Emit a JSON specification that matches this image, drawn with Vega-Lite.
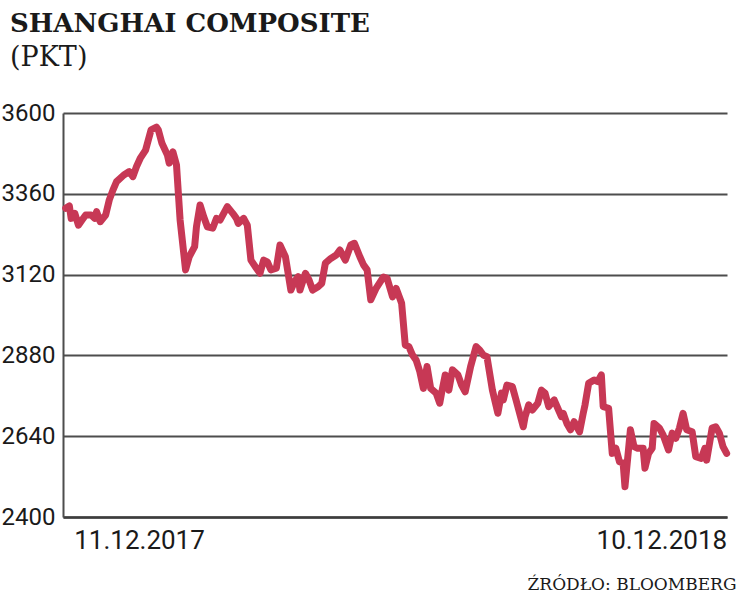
{
  "$schema": "https://vega.github.io/schema/vega-lite/v6.json",
  "width": 664,
  "height": 404,
  "autosize": "none",
  "padding": {"left": 63, "top": 113, "right": 12, "bottom": 76},
  "background": "white",
  "config": {"view": {"stroke": null}},
  "title": {
    "text": "SHANGHAI COMPOSITE",
    "subtitle": "(PKT)",
    "anchor": "start",
    "frame": "group",
    "dx": -53,
    "offset": 30,
    "font": "DejaVu Serif, Liberation Serif",
    "fontSize": 26,
    "fontWeight": "bold",
    "color": "#1a1a1a",
    "subtitleFont": "DejaVu Serif, Liberation Serif",
    "subtitleFontSize": 27,
    "subtitleFontWeight": "normal",
    "subtitleColor": "#1a1a1a",
    "subtitlePadding": 8
  },
  "data": {
    "values": [
      {"day": 0, "pkt": 3317}, {"day": 2, "pkt": 3324}, {"day": 3, "pkt": 3287}, {"day": 5, "pkt": 3302},
      {"day": 7, "pkt": 3267}, {"day": 9, "pkt": 3282}, {"day": 11, "pkt": 3297}, {"day": 14, "pkt": 3297},
      {"day": 16, "pkt": 3287}, {"day": 17, "pkt": 3307}, {"day": 19, "pkt": 3277}, {"day": 22, "pkt": 3297},
      {"day": 24, "pkt": 3342}, {"day": 26, "pkt": 3371}, {"day": 28, "pkt": 3396}, {"day": 32, "pkt": 3416},
      {"day": 35, "pkt": 3426}, {"day": 37, "pkt": 3411}, {"day": 39, "pkt": 3441}, {"day": 41, "pkt": 3465},
      {"day": 44, "pkt": 3490}, {"day": 47, "pkt": 3550}, {"day": 50, "pkt": 3558}, {"day": 51, "pkt": 3550},
      {"day": 53, "pkt": 3510}, {"day": 56, "pkt": 3475}, {"day": 57, "pkt": 3451}, {"day": 59, "pkt": 3485},
      {"day": 61, "pkt": 3446}, {"day": 63, "pkt": 3282}, {"day": 66, "pkt": 3134}, {"day": 68, "pkt": 3173},
      {"day": 71, "pkt": 3203}, {"day": 72, "pkt": 3262}, {"day": 74, "pkt": 3327}, {"day": 76, "pkt": 3292},
      {"day": 78, "pkt": 3262}, {"day": 81, "pkt": 3258}, {"day": 83, "pkt": 3287}, {"day": 85, "pkt": 3282},
      {"day": 89, "pkt": 3322}, {"day": 92, "pkt": 3302}, {"day": 94, "pkt": 3287}, {"day": 95, "pkt": 3272},
      {"day": 98, "pkt": 3287}, {"day": 100, "pkt": 3267}, {"day": 102, "pkt": 3163}, {"day": 105, "pkt": 3139},
      {"day": 107, "pkt": 3124}, {"day": 109, "pkt": 3163}, {"day": 111, "pkt": 3158}, {"day": 113, "pkt": 3134},
      {"day": 116, "pkt": 3139}, {"day": 118, "pkt": 3208}, {"day": 121, "pkt": 3173}, {"day": 124, "pkt": 3074},
      {"day": 126, "pkt": 3099}, {"day": 128, "pkt": 3114}, {"day": 129, "pkt": 3074}, {"day": 132, "pkt": 3124},
      {"day": 134, "pkt": 3104}, {"day": 136, "pkt": 3074}, {"day": 139, "pkt": 3084}, {"day": 141, "pkt": 3094},
      {"day": 143, "pkt": 3154}, {"day": 146, "pkt": 3168}, {"day": 149, "pkt": 3178}, {"day": 151, "pkt": 3193},
      {"day": 154, "pkt": 3163}, {"day": 157, "pkt": 3208}, {"day": 159, "pkt": 3213}, {"day": 162, "pkt": 3173},
      {"day": 164, "pkt": 3149}, {"day": 166, "pkt": 3134}, {"day": 168, "pkt": 3045}, {"day": 171, "pkt": 3080},
      {"day": 175, "pkt": 3113}, {"day": 177, "pkt": 3109}, {"day": 180, "pkt": 3054}, {"day": 182, "pkt": 3079},
      {"day": 184, "pkt": 3050}, {"day": 185, "pkt": 3035}, {"day": 187, "pkt": 2911}, {"day": 189, "pkt": 2906},
      {"day": 191, "pkt": 2881}, {"day": 193, "pkt": 2866}, {"day": 195, "pkt": 2832}, {"day": 197, "pkt": 2782},
      {"day": 199, "pkt": 2847}, {"day": 201, "pkt": 2782}, {"day": 204, "pkt": 2768}, {"day": 206, "pkt": 2738},
      {"day": 207, "pkt": 2768}, {"day": 209, "pkt": 2822}, {"day": 211, "pkt": 2777}, {"day": 213, "pkt": 2837},
      {"day": 216, "pkt": 2822}, {"day": 218, "pkt": 2792}, {"day": 220, "pkt": 2772}, {"day": 223, "pkt": 2847},
      {"day": 226, "pkt": 2906}, {"day": 228, "pkt": 2896}, {"day": 230, "pkt": 2881}, {"day": 232, "pkt": 2876},
      {"day": 235, "pkt": 2777}, {"day": 238, "pkt": 2708}, {"day": 240, "pkt": 2768}, {"day": 241, "pkt": 2748},
      {"day": 243, "pkt": 2792}, {"day": 246, "pkt": 2787}, {"day": 248, "pkt": 2748}, {"day": 250, "pkt": 2708},
      {"day": 252, "pkt": 2668}, {"day": 253, "pkt": 2698}, {"day": 255, "pkt": 2733}, {"day": 257, "pkt": 2718},
      {"day": 260, "pkt": 2738}, {"day": 262, "pkt": 2777}, {"day": 264, "pkt": 2768}, {"day": 266, "pkt": 2728},
      {"day": 269, "pkt": 2748}, {"day": 271, "pkt": 2723}, {"day": 273, "pkt": 2698}, {"day": 274, "pkt": 2708},
      {"day": 276, "pkt": 2678}, {"day": 278, "pkt": 2659}, {"day": 280, "pkt": 2683}, {"day": 283, "pkt": 2653},
      {"day": 285, "pkt": 2708}, {"day": 286, "pkt": 2733}, {"day": 288, "pkt": 2797}, {"day": 291, "pkt": 2807},
      {"day": 293, "pkt": 2802}, {"day": 295, "pkt": 2822}, {"day": 296, "pkt": 2728}, {"day": 299, "pkt": 2723},
      {"day": 301, "pkt": 2589}, {"day": 303, "pkt": 2604}, {"day": 305, "pkt": 2564}, {"day": 307, "pkt": 2560},
      {"day": 308, "pkt": 2490}, {"day": 311, "pkt": 2659}, {"day": 313, "pkt": 2609}, {"day": 315, "pkt": 2604},
      {"day": 318, "pkt": 2604}, {"day": 319, "pkt": 2545}, {"day": 321, "pkt": 2589}, {"day": 323, "pkt": 2604},
      {"day": 324, "pkt": 2678}, {"day": 327, "pkt": 2664}, {"day": 329, "pkt": 2644}, {"day": 332, "pkt": 2599},
      {"day": 334, "pkt": 2649}, {"day": 336, "pkt": 2634}, {"day": 338, "pkt": 2664}, {"day": 340, "pkt": 2708},
      {"day": 342, "pkt": 2659}, {"day": 345, "pkt": 2653}, {"day": 347, "pkt": 2579}, {"day": 350, "pkt": 2574},
      {"day": 352, "pkt": 2604}, {"day": 353, "pkt": 2569}, {"day": 356, "pkt": 2664}, {"day": 358, "pkt": 2668},
      {"day": 360, "pkt": 2649}, {"day": 362, "pkt": 2609}, {"day": 364, "pkt": 2589}
    ]
  },
  "mark": {"type": "line", "color": "#c73855", "strokeWidth": 7, "strokeJoin": "round", "strokeCap": "round"},
  "encoding": {
    "x": {
      "field": "day",
      "type": "quantitative",
      "scale": {"domain": [-1.5, 364.2], "nice": false, "zero": false},
      "axis": {
        "values": [0, 364],
        "labelExpr": "datum.value == 0 ? '11.12.2017' : '10.12.2018'",
        "labelAlign": {"condition": {"test": "datum.value == 0", "value": "left"}, "value": "right"},
        "labelOffset": {"condition": {"test": "datum.value == 0", "value": 8}, "value": 0},
        "labelFlush": false,
        "labelOverlap": false,
        "labelFont": "Roboto",
        "labelFontSize": 26,
        "labelColor": "#1a1a1a",
        "labelBaseline": "top",
        "labelPadding": 10,
        "ticks": false,
        "grid": false,
        "domain": true,
        "domainColor": "#3d3d3d",
        "domainWidth": 2.5,
        "title": "ŹRÓDŁO: BLOOMBERG",
        "titleFont": "DejaVu Serif, Liberation Serif",
        "titleFontSize": 17,
        "titleFontWeight": "normal",
        "titleColor": "#1a1a1a",
        "titleAlign": "right",
        "titleBaseline": "alphabetic",
        "titleX": 673,
        "titleY": 72
      }
    },
    "y": {
      "field": "pkt",
      "type": "quantitative",
      "scale": {"domain": [2400, 3600], "nice": false, "zero": false},
      "axis": {
        "values": [2400, 2640, 2880, 3120, 3360, 3600],
        "format": "d",
        "title": null,
        "grid": true,
        "gridColor": "#4d4d4d",
        "gridWidth": 2,
        "domain": true,
        "domainColor": "#4d4d4d",
        "domainWidth": 2,
        "ticks": false,
        "labelPadding": 8,
        "labelFlush": false,
        "labelOverlap": false,
        "labelFont": "Roboto",
        "labelFontSize": 24,
        "labelColor": "#1a1a1a"
      }
    }
  }
}
